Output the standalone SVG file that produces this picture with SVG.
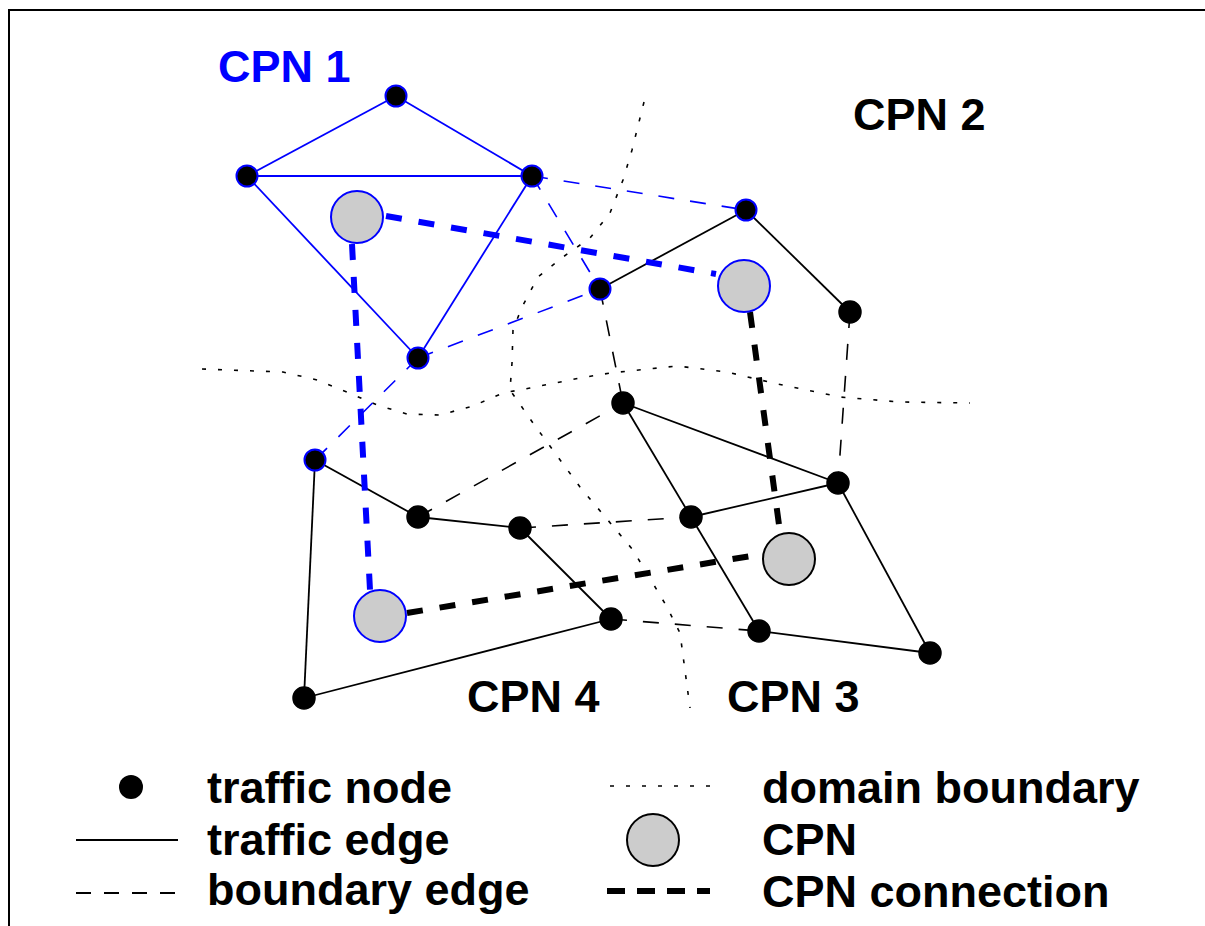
<svg xmlns="http://www.w3.org/2000/svg" width="1205" height="926" viewBox="0 0 1205 926">
<style>
.frame{fill:none;stroke:#000;stroke-width:2}
.dom{fill:none;stroke:#000;stroke-width:1.6;stroke-dasharray:4 12}
.te{stroke:#000;stroke-width:1.8;fill:none}
.teb{stroke:#0000ff;stroke-width:1.8;fill:none}
.be{stroke:#000;stroke-width:1.6;stroke-dasharray:16 16;fill:none}
.beb{stroke:#0000ff;stroke-width:1.6;stroke-dasharray:16 16;fill:none}
.cc{stroke:#000;stroke-width:6;stroke-dasharray:16 17;fill:none}
.ccb{stroke:#0000ff;stroke-width:6;stroke-dasharray:16 17;fill:none}
.tn{fill:#000;stroke:#000;stroke-width:1.5}
.tnb{fill:#000;stroke:#0000ff;stroke-width:2}
.cpn{fill:#cccccc;stroke:#000;stroke-width:2}
.cpnb{fill:#cccccc;stroke:#0000ff;stroke-width:2}
text{font-family:"Liberation Sans",Arial,sans-serif;font-weight:bold;font-size:45px;fill:#000}
.blue{fill:#0000ff}
</style>
<rect width="1205" height="926" fill="#fff"/>
<path class="frame" d="M9,926 V10 H1205"/>

<g id="boundaries">
<polyline class="dom" points="202,369 283,372 317,380 347,392 377,405 407,414 440,415 473,406 503,393 530,388 580,378 610,373 677,366 727,372 773,383 840,397 900,402 970,403"/>
<polyline class="dom" points="644,102 632,150 623,180 610,213 590,238 563,257 538,277 522,307 513,330 512,363 510,390 533,423 580,487 633,550 667,607 680,633 690,708"/>
</g>

<g id="connectors">
<line class="teb" x1="396" y1="96" x2="247" y2="176"/>
<line class="teb" x1="396" y1="96" x2="532" y2="176"/>
<line class="teb" x1="247" y1="176" x2="532" y2="176"/>
<line class="teb" x1="247" y1="176" x2="418" y2="358"/>
<line class="teb" x1="532" y1="176" x2="418" y2="358"/>
<line class="beb" x1="532" y1="176" x2="746" y2="210"/>
<line class="beb" x1="532" y1="176" x2="600" y2="289"/>
<line class="beb" x1="418" y1="358" x2="600" y2="289"/>
<line class="beb" x1="418" y1="358" x2="315" y2="460"/>
<line class="te" x1="600" y1="289" x2="746" y2="210"/>
<line class="te" x1="746" y1="210" x2="850" y2="312"/>
<line class="te" x1="623" y1="403" x2="838" y2="483"/>
<line class="te" x1="623" y1="403" x2="691" y2="517"/>
<line class="te" x1="691" y1="517" x2="838" y2="483"/>
<line class="te" x1="691" y1="517" x2="759" y2="631"/>
<line class="te" x1="838" y1="483" x2="930" y2="653"/>
<line class="te" x1="759" y1="631" x2="930" y2="653"/>
<line class="te" x1="315" y1="460" x2="418" y2="517"/>
<line class="te" x1="418" y1="517" x2="520" y2="528"/>
<line class="te" x1="520" y1="528" x2="611" y2="619"/>
<line class="te" x1="611" y1="619" x2="304" y2="698"/>
<line class="te" x1="304" y1="698" x2="315" y2="460"/>
<line class="be" x1="600" y1="289" x2="623" y2="403"/>
<line class="be" x1="850" y1="312" x2="838" y2="483"/>
<line class="be" x1="418" y1="517" x2="623" y2="403"/>
<line class="be" x1="520" y1="528" x2="691" y2="517"/>
<line class="be" x1="611" y1="619" x2="759" y2="631"/>
<line class="ccb" x1="386" y1="216" x2="716" y2="274"/>
<line class="ccb" x1="352" y1="244" x2="370" y2="590"/>
<line class="cc" x1="750" y1="312" x2="780" y2="532"/>
<line class="cc" x1="407" y1="613" x2="763" y2="554"/>
</g>

<g id="node-A"><circle class="tnb" cx="396" cy="96" r="10.5"/></g>
<g id="node-B"><circle class="tnb" cx="247" cy="176" r="10.5"/></g>
<g id="node-C"><circle class="tnb" cx="532" cy="176" r="10.5"/></g>
<g id="node-D"><circle class="tnb" cx="418" cy="358" r="10.5"/></g>
<g id="node-E"><circle class="tnb" cx="746" cy="210" r="10.5"/></g>
<g id="node-F"><circle class="tnb" cx="600" cy="289" r="10.5"/></g>
<g id="node-G"><circle class="tn" cx="850" cy="312" r="11"/></g>
<g id="node-H"><circle class="tn" cx="623" cy="403" r="11"/></g>
<g id="node-I"><circle class="tn" cx="838" cy="483" r="11"/></g>
<g id="node-J"><circle class="tnb" cx="315" cy="460" r="10.5"/></g>
<g id="node-K"><circle class="tn" cx="418" cy="517" r="11"/></g>
<g id="node-L"><circle class="tn" cx="520" cy="528" r="11"/></g>
<g id="node-M"><circle class="tn" cx="691" cy="517" r="11"/></g>
<g id="node-N"><circle class="tn" cx="611" cy="619" r="11"/></g>
<g id="node-O"><circle class="tn" cx="759" cy="631" r="11"/></g>
<g id="node-P"><circle class="tn" cx="930" cy="653" r="11"/></g>
<g id="node-Q"><circle class="tn" cx="304" cy="698" r="11"/></g>

<g id="cpn-1"><circle class="cpnb" cx="357" cy="217" r="26"/></g>
<g id="cpn-2"><circle class="cpnb" cx="744" cy="286" r="26"/></g>
<g id="cpn-3"><circle class="cpn" cx="789" cy="559" r="26"/></g>
<g id="cpn-4"><circle class="cpnb" cx="380" cy="616" r="26"/></g>

<g id="labels">
<text class="blue" x="218" y="82" font-size="44">CPN 1</text>
<text x="853" y="130">CPN 2</text>
<text x="467" y="712">CPN 4</text>
<text x="727" y="712">CPN 3</text>
</g>

<g id="legend">
<circle cx="131" cy="787" r="12" fill="#000"/>
<text x="207" y="803">traffic node</text>
<line x1="76" y1="840" x2="178" y2="840" stroke="#000" stroke-width="2"/>
<text x="207" y="855">traffic edge</text>
<line x1="76" y1="893" x2="178" y2="893" stroke="#000" stroke-width="2" stroke-dasharray="15 13"/>
<text x="207" y="905">boundary edge</text>
<line x1="610" y1="786" x2="710" y2="786" class="dom"/>
<text x="762" y="803">domain boundary</text>
<circle cx="653" cy="840" r="26" class="cpn"/>
<text x="762" y="855">CPN</text>
<line x1="607" y1="891" x2="710" y2="891" stroke="#000" stroke-width="6" stroke-dasharray="18 12"/>
<text x="762" y="907">CPN connection</text>
</g>
</svg>
